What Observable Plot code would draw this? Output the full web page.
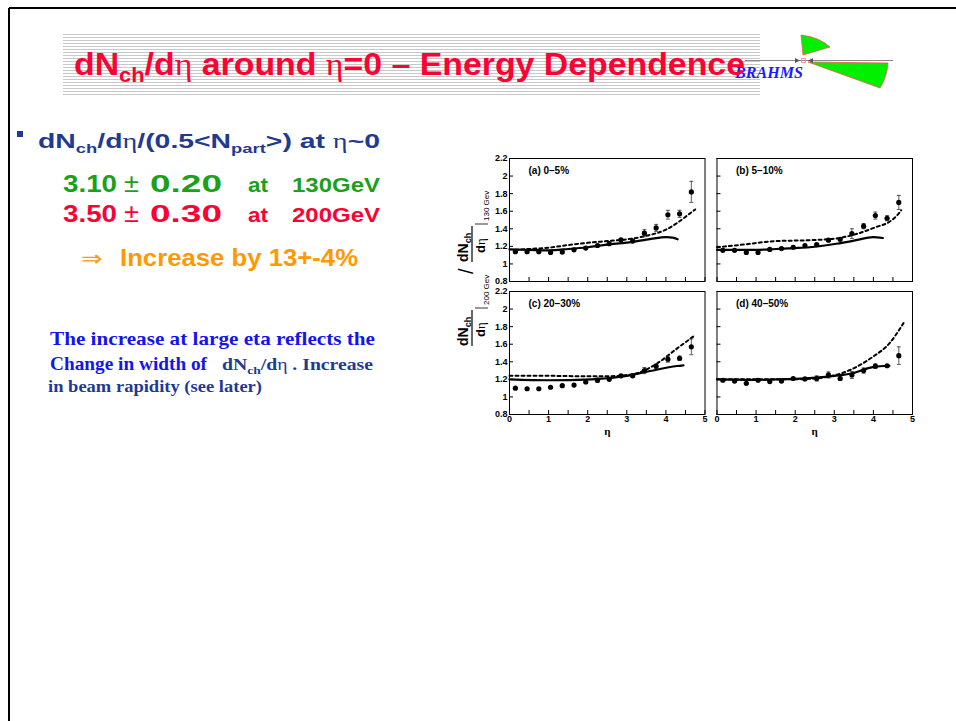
<!DOCTYPE html>
<html>
<head>
<meta charset="utf-8">
<script src="https://cdn.jsdelivr.net/npm/d3@7"></script>
<script src="https://cdn.jsdelivr.net/npm/@observablehq/plot@0.6"></script>
<style>
 html,body{margin:0;padding:0;background:#fff;}
 #page{position:relative;width:956px;height:721px;overflow:hidden;background:#fff;}
 #bg,#ylab{position:absolute;left:0;top:0;}
 #chart{position:absolute;left:440px;top:140px;}
</style>
</head>
<body>
<div id="page">
<svg id="bg" width="956" height="721">
  <line x1="9" y1="8" x2="956" y2="8" stroke="#000" stroke-width="2"/>
  <line x1="9" y1="8" x2="9" y2="721" stroke="#000" stroke-width="2"/>
  <g id="stripes" stroke="#c8c8c8" stroke-width="1"></g>
  <line x1="745" y1="60.5" x2="893" y2="60.5" stroke="#8a8a8a" stroke-width="1"/>
  <path d="M801,35 Q819,37 830,47 L803,55 Z" fill="#00f000" stroke="#ff5050" stroke-width="0.8"/>
  <path d="M808,62 L888,63 Q887,77 880,88 Z" fill="#00f000" stroke="#ff5050" stroke-width="0.8"/>
  <path d="M795,58 L800,60.5 L795,63 Z" fill="#555"/>
  <path d="M813,58 L808,60.5 L813,63 Z" fill="#555"/>
  <rect x="801.5" y="58.5" width="4" height="4" fill="none" stroke="#ff8080" stroke-width="0.8"/>
  <text x="735" y="78" font-family="Liberation Serif" font-style="italic" font-weight="bold" font-size="17" fill="#1a1aff" textLength="68" lengthAdjust="spacingAndGlyphs">BRAHMS</text>

  <text x="74" y="75" font-family="Liberation Sans" font-weight="bold" font-size="31" fill="#ff0033" textLength="671" lengthAdjust="spacingAndGlyphs">dN<tspan font-size="20" dy="7">ch</tspan><tspan dy="-7">/d</tspan><tspan font-family="Liberation Serif" font-weight="normal">η</tspan> around <tspan font-family="Liberation Serif" font-weight="normal">η</tspan>=0 – Energy Dependence</text>

  <rect x="17" y="131" width="6" height="6" fill="#1f3a93"/>
  <text x="38" y="148" font-family="Liberation Sans" font-weight="bold" font-size="20" fill="#1f3a93" textLength="342" lengthAdjust="spacingAndGlyphs">dN<tspan font-size="13" dy="5">ch</tspan><tspan dy="-5">/d</tspan><tspan font-family="Liberation Serif" font-weight="normal">η</tspan>/(0.5&lt;N<tspan font-size="13" dy="5">part</tspan><tspan dy="-5">&gt;) at </tspan><tspan font-family="Liberation Serif" font-weight="normal">η</tspan>~0</text>

  <g font-family="Liberation Sans" font-weight="bold" fill="#1aa11a">
    <text x="63" y="192" font-size="24" textLength="54" lengthAdjust="spacingAndGlyphs">3.10</text>
    <text x="124" y="192" font-size="26" font-weight="normal" textLength="15" lengthAdjust="spacingAndGlyphs">±</text>
    <text x="150" y="192" font-size="24" textLength="72" lengthAdjust="spacingAndGlyphs">0.20</text>
    <text x="248" y="192" font-size="21" textLength="20" lengthAdjust="spacingAndGlyphs">at</text>
    <text x="292" y="192" font-size="21" textLength="88" lengthAdjust="spacingAndGlyphs">130GeV</text>
  </g>
  <g font-family="Liberation Sans" font-weight="bold" fill="#ff0033">
    <text x="63" y="222" font-size="24" textLength="54" lengthAdjust="spacingAndGlyphs">3.50</text>
    <text x="124" y="222" font-size="26" font-weight="normal" textLength="15" lengthAdjust="spacingAndGlyphs">±</text>
    <text x="150" y="222" font-size="24" textLength="72" lengthAdjust="spacingAndGlyphs">0.30</text>
    <text x="248" y="222" font-size="21" textLength="20" lengthAdjust="spacingAndGlyphs">at</text>
    <text x="292" y="222" font-size="21" textLength="88" lengthAdjust="spacingAndGlyphs">200GeV</text>
  </g>
  <g fill="#ff9900">
    <text x="81" y="266" font-family="Liberation Serif" font-size="22" textLength="21" lengthAdjust="spacingAndGlyphs">⇒</text>
    <text x="120" y="266" font-family="Liberation Sans" font-weight="bold" font-size="24" textLength="238" lengthAdjust="spacingAndGlyphs">Increase by 13+-4%</text>
  </g>

  <g font-family="Liberation Serif" font-weight="bold">
    <text x="50" y="345" font-size="19" fill="#1414ee" textLength="325" lengthAdjust="spacingAndGlyphs">The increase at large eta reflects the</text>
    <text x="50" y="370" font-size="19" fill="#1414ee" textLength="157" lengthAdjust="spacingAndGlyphs">Change in width of</text>
    <text x="222" y="370" font-size="16" fill="#1f3a93" textLength="151" lengthAdjust="spacingAndGlyphs">dN<tspan font-size="11" dy="4">ch</tspan><tspan dy="-4">/d</tspan><tspan font-weight="normal">η</tspan> . Increase</text>
    <text x="48" y="392" font-size="16" fill="#1f3a93" textLength="214" lengthAdjust="spacingAndGlyphs">in beam rapidity (see later)</text>
  </g>
</svg>
<div id="chart"></div>
<svg id="ylab" width="956" height="721" style="pointer-events:none">
  <g transform="translate(455,346) rotate(-90)" font-family="Liberation Sans" font-weight="bold" fill="#000">
    <text x="0" y="13" font-size="14">dN<tspan font-size="9" dy="3">ch</tspan></text>
    <line x1="0" y1="17" x2="36" y2="17" stroke="#000" stroke-width="1.2"/>
    <text x="9" y="30" font-size="13">d<tspan font-family="Liberation Serif" font-weight="normal">η</tspan></text>
    <line x1="38" y1="20" x2="38" y2="33" stroke="#000" stroke-width="0.8"/>
    <text x="41" y="34" font-size="8" font-weight="normal">200 Gev</text>
    <text x="72" y="18" font-size="20" font-weight="normal">/</text>
    <text x="84" y="13" font-size="14">dN<tspan font-size="9" dy="3">ch</tspan></text>
    <line x1="84" y1="17" x2="120" y2="17" stroke="#000" stroke-width="1.2"/>
    <text x="93" y="30" font-size="13">d<tspan font-family="Liberation Serif" font-weight="normal">η</tspan></text>
    <line x1="122" y1="20" x2="122" y2="33" stroke="#000" stroke-width="0.8"/>
    <text x="125" y="34" font-size="8" font-weight="normal">130 Gev</text>
  </g>
</svg>
</div>
<script>
// stripes of the title banner
const stripes = document.getElementById("stripes");
for (let y = 34.5; y <= 95; y += 3) {
  const l = document.createElementNS("http://www.w3.org/2000/svg", "line");
  l.setAttribute("x1", 63); l.setAttribute("x2", 760);
  l.setAttribute("y1", y); l.setAttribute("y2", y);
  stripes.appendChild(l);
}

// ---- data ----
const eta = [0.15, 0.45, 0.75, 1.05, 1.35, 1.65, 1.95, 2.25, 2.55, 2.85, 3.15, 3.45, 3.75, 4.05, 4.35, 4.65];

const ratioA = [1.14, 1.14, 1.14, 1.13, 1.135, 1.16, 1.18, 1.21, 1.23, 1.275, 1.26, 1.35, 1.41, 1.56, 1.57, 1.82];
const errA   = [0.01, 0.01, 0.01, 0.01, 0.01, 0.01, 0.01, 0.01, 0.01, 0.015, 0.015, 0.04, 0.04, 0.05, 0.04, 0.12];
const ratioB = [1.155, 1.155, 1.13, 1.13, 1.165, 1.175, 1.19, 1.21, 1.22, 1.27, 1.28, 1.345, 1.43, 1.55, 1.52, 1.70];
const errB   = [0.01, 0.01, 0.01, 0.01, 0.01, 0.01, 0.01, 0.01, 0.01, 0.015, 0.015, 0.055, 0.03, 0.04, 0.03, 0.08];
const ratioC = [1.10, 1.093, 1.093, 1.11, 1.128, 1.135, 1.17, 1.19, 1.20, 1.24, 1.24, 1.30, 1.35, 1.43, 1.44, 1.57];
const errC   = [0.01, 0.01, 0.01, 0.01, 0.01, 0.01, 0.01, 0.025, 0.01, 0.01, 0.01, 0.035, 0.025, 0.035, 0.025, 0.09];
const ratioD = [1.19, 1.18, 1.155, 1.19, 1.175, 1.18, 1.21, 1.205, 1.21, 1.25, 1.21, 1.25, 1.30, 1.35, 1.355, 1.47];
const errD   = [0.01, 0.01, 0.01, 0.01, 0.01, 0.01, 0.01, 0.01, 0.03, 0.035, 0.02, 0.04, 0.03, 0.025, 0.01, 0.10];

const dashedA = [[0.15,1.16],[0.5,1.17],[1.0,1.185],[1.5,1.215],[2.0,1.24],[2.5,1.26],[3.0,1.28],[3.5,1.32],[4.0,1.39],[4.3,1.47],[4.6,1.57],[4.75,1.62]];
const solidA  = [[0,1.165],[0.5,1.16],[1.0,1.155],[1.5,1.17],[2.0,1.19],[2.5,1.22],[3.0,1.242],[3.5,1.276],[3.85,1.30],[4.02,1.306],[4.17,1.30],[4.3,1.28]];
const dashedB = [[0,1.19],[0.67,1.22],[1.5,1.26],[2.37,1.27],[3.05,1.29],[3.56,1.34],[4.07,1.42],[4.41,1.48],[4.6,1.55],[4.71,1.61]];
const solidB  = [[0,1.16],[0.5,1.16],[1.0,1.16],[1.5,1.17],[2.0,1.18],[2.37,1.19],[3.05,1.23],[3.56,1.27],[3.99,1.306],[4.24,1.295]];
const dashedC = [[0,1.24],[1.0,1.24],[2.0,1.235],[2.5,1.235],[3.0,1.25],[3.26,1.27],[3.77,1.38],[4.28,1.55],[4.74,1.70]];
const solidC  = [[0,1.2],[1.0,1.19],[2.1,1.2],[3.0,1.24],[3.6,1.295],[4.28,1.352],[4.45,1.36]];
const dashedD = [[0,1.2],[1.0,1.2],[2.0,1.2],[2.5,1.21],[3.0,1.245],[3.47,1.32],[3.98,1.455],[4.41,1.61],[4.77,1.84]];
const solidD  = [[0,1.2],[1.0,1.195],[2.0,1.205],[3.0,1.24],[3.48,1.27],[3.98,1.34],[4.41,1.355]];

const panelLabels = ["(a) 0–5%", "(b) 5–10%", "(c) 20–30%", "(d) 40–50%"];
const yTicks = [0.8, 1, 1.2, 1.4, 1.6, 1.8, 2, 2.2];
const xTicks = [0, 0.5, 1, 1.5, 2, 2.5, 3, 3.5, 4, 4.5, 5];
const xLabels = [0, 1, 2, 3, 4, 5];

// ---- build tables ----
const panels = [
  {fx: "L", fy: "T", label: panelLabels[0], ratio: ratioA, err: errA, dashed: dashedA, solid: solidA},
  {fx: "R", fy: "T", label: panelLabels[1], ratio: ratioB, err: errB, dashed: dashedB, solid: solidB},
  {fx: "L", fy: "B", label: panelLabels[2], ratio: ratioC, err: errC, dashed: dashedC, solid: solidC},
  {fx: "R", fy: "B", label: panelLabels[3], ratio: ratioD, err: errD, dashed: dashedD, solid: solidD}
];
const points = panels.flatMap(p => eta.map((e, i) => ({fx: p.fx, fy: p.fy, eta: e, r: p.ratio[i], e: p.err[i]})));
const dashed = panels.flatMap(p => p.dashed.map(([x, y]) => ({fx: p.fx, fy: p.fy, eta: x, r: y})));
const solid = panels.flatMap(p => p.solid.map(([x, y]) => ({fx: p.fx, fy: p.fy, eta: x, r: y})));
const bottomPanels = panels.filter(p => p.fy === "B");

const cap = {draw(ctx) { ctx.moveTo(-2, 0); ctx.lineTo(2, 0); }};

const chart = Plot.plot({
  width: 492, height: 304,
  marginLeft: 69, marginRight: 20, marginTop: 18, marginBottom: 30,
  style: {fontFamily: "'Liberation Sans', Arial, sans-serif", fontSize: "9px", fontWeight: "bold", background: "transparent", overflow: "visible", color: "#000"},
  x: {domain: [0, 5]},
  y: {domain: [0.8, 2.2]},
  fx: {domain: ["L", "R"], paddingInner: 12 / 208, paddingOuter: 0, round: false, axis: null},
  fy: {domain: ["T", "B"], paddingInner: 10 / 133, paddingOuter: 0, round: false, axis: null},
  marks: [
    Plot.frame({stroke: "#000", strokeWidth: 1}),
    Plot.axisY({ticks: yTicks, anchor: "left", tickSize: -4, tickFormat: () => "", facetAnchor: null, label: null}),
    Plot.axisX({ticks: xTicks, anchor: "bottom", tickSize: -4, tickFormat: () => "", facetAnchor: null, label: null}),
    Plot.axisY({ticks: yTicks, anchor: "left", tickSize: 0, tickPadding: 2, tickFormat: d => String(d), facetAnchor: "left", label: null}),
    Plot.axisX({ticks: xLabels, anchor: "bottom", tickSize: 0, tickPadding: 1, tickFormat: d => String(d), facetAnchor: "bottom", label: null}),
    Plot.line(dashed, {x: "eta", y: "r", fx: "fx", fy: "fy", stroke: "#000", strokeWidth: 2, strokeDasharray: "3,3", curve: "monotone-x"}),
    Plot.line(solid, {x: "eta", y: "r", fx: "fx", fy: "fy", stroke: "#000", strokeWidth: 2.2, curve: "monotone-x"}),
    Plot.ruleX(points, {x: "eta", y1: d => d.r - d.e, y2: d => d.r + d.e, fx: "fx", fy: "fy", stroke: "#333", strokeWidth: 0.8}),
    Plot.dot(points, {x: "eta", y: d => d.r - d.e, fx: "fx", fy: "fy", symbol: cap, stroke: "#333", fill: "none", strokeWidth: 0.8}),
    Plot.dot(points, {x: "eta", y: d => d.r + d.e, fx: "fx", fy: "fy", symbol: cap, stroke: "#333", fill: "none", strokeWidth: 0.8}),
    Plot.dot(points, {x: "eta", y: "r", fx: "fx", fy: "fy", r: 2.6, fill: "#000", stroke: "none"}),
    Plot.text(panels, {fx: "fx", fy: "fy", text: "label", frameAnchor: "top-left", dx: 19, dy: 8, textAnchor: "start", fontSize: 10, fontWeight: "bold"}),
    Plot.text(bottomPanels, {fx: "fx", fy: "fy", text: () => "η", frameAnchor: "bottom", dy: 20, fontSize: 11, fontWeight: "bold", fontFamily: "'Liberation Serif', serif"})
  ]
});
document.getElementById("chart").appendChild(chart);
</script>
</body>
</html>
